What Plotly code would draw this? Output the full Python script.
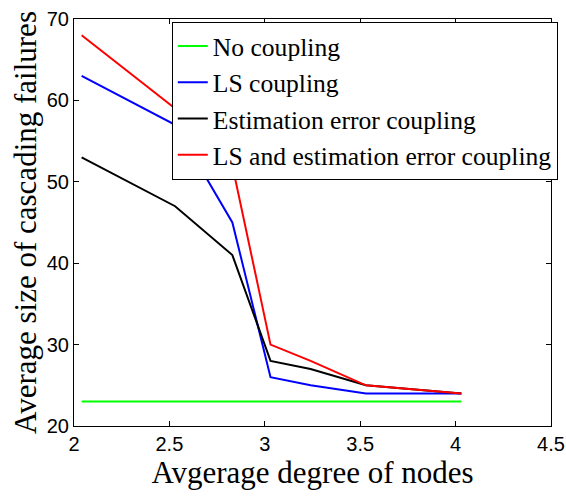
import plotly.graph_objects as go

x_degree = [2.04, 2.53, 2.83, 3.03, 3.24, 3.53, 4.03]
no_coupling = [23, 23, 23, 23, 23, 23, 23]
ls_coupling = [63, 57, 45, 26, 25, 24, 24]
est_coupling = [53, 47, 41, 28, 27, 25, 24]
ls_est_coupling = [68, 59, 52, 30, 28, 25, 24]

series_names = ["No coupling", "LS coupling", "Estimation error coupling",
                "LS and estimation error coupling"]
series_values = [no_coupling, ls_coupling, est_coupling, ls_est_coupling]
series_colors = ["#00ff00", "#0000ff", "#000000", "#ff0000"]

x_ticks = [2, 2.5, 3, 3.5, 4, 4.5]
x_tick_labels = ["2", "2.5", "3", "3.5", "4", "4.5"]
y_ticks = [20, 30, 40, 50, 60, 70]

SERIF = "Liberation Serif"
SANS = "Liberation Sans"

fig = go.Figure()
for name, vals, col in zip(series_names, series_values, series_colors):
    fig.add_trace(go.Scatter(x=x_degree, y=vals, mode="lines", name=name,
                             line=dict(color=col, width=2)))

axis_common = dict(showgrid=False, zeroline=False, showline=True, linecolor="black",
                   linewidth=1, mirror="ticks", ticks="inside", ticklen=5,
                   tickcolor="black",
                   tickfont=dict(family=SANS, size=20, color="black"))

fig.update_xaxes(range=[2, 4.5], tickvals=x_ticks, ticktext=x_tick_labels,
                 title=dict(text="Avgerage degree of nodes",
                            font=dict(family=SERIF, size=31, color="black"),
                            standoff=7),
                 **axis_common)
fig.update_yaxes(range=[20, 70], tickvals=y_ticks,
                 title=dict(text="Average size of cascading failures",
                            font=dict(family=SERIF, size=31, color="black"),
                            standoff=0),
                 **axis_common)

fig.update_layout(
    width=566, height=496,
    margin=dict(l=74, r=15, t=19, b=70, autoexpand=False),
    paper_bgcolor="white", plot_bgcolor="white",
    showlegend=True,
    legend=dict(x=0.205, y=0.993, xanchor="left", yanchor="top",
                bgcolor="white", bordercolor="black", borderwidth=1,
                font=dict(family=SERIF, size=25.6, color="black"),
                itemwidth=30, tracegroupgap=0),
)

fig.write_html("out.html", config={"displayModeBar": False},
               post_script="document.body.style.margin='0';document.body.style.padding='0';")
